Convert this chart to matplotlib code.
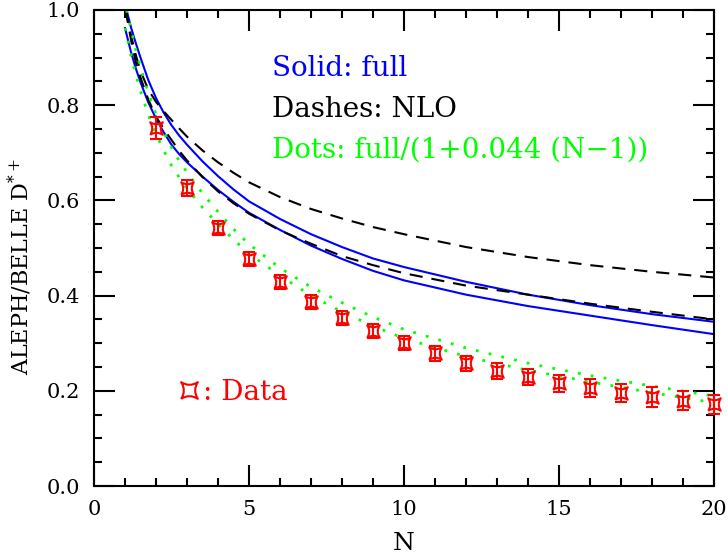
import numpy as np
import matplotlib
matplotlib.use('Agg')
import matplotlib.pyplot as plt
from matplotlib.path import Path
from matplotlib.lines import Line2D
from matplotlib.ticker import MultipleLocator, FormatStrFormatter

plt.rcParams['font.family'] = 'DejaVu Serif'
plt.rcParams['mathtext.fontset'] = 'dejavuserif'

# ---------------------------------------------------------------------------
# curves
N_full_up = [1.05, 1.2, 1.35, 1.5, 1.75, 2, 2.25, 2.5, 2.75, 3, 3.5, 4, 4.5, 5,
             6, 7, 8, 9, 10, 12, 14, 16, 18, 20]
full_up = [1.0, 0.962, 0.930, 0.900, 0.853, 0.815, 0.784, 0.758, 0.736, 0.717,
           0.682, 0.651, 0.623, 0.598, 0.561, 0.529, 0.502, 0.478, 0.460, 0.429,
           0.402, 0.380, 0.361, 0.345]

N_full_lo = [1.0, 1.2, 1.35, 1.5, 1.75, 2, 2.25, 2.5, 2.75, 3, 3.5, 4, 4.5, 5,
             6, 7, 8, 9, 10, 12, 14, 16, 18, 20]
full_lo = [0.962, 0.910, 0.877, 0.848, 0.806, 0.772, 0.743, 0.717, 0.697, 0.680,
           0.650, 0.622, 0.597, 0.574, 0.538, 0.505, 0.477, 0.452, 0.432, 0.402,
           0.378, 0.358, 0.338, 0.319]

N_nlo = [1.02, 1.2, 1.35, 1.5, 1.75, 2, 2.25, 2.5, 2.75, 3, 3.5, 4, 4.5, 5,
         6, 7, 8, 9, 10, 12, 14, 16, 18, 20]
nlo_up = [1.0, 0.945, 0.905, 0.872, 0.833, 0.807, 0.787, 0.769, 0.751, 0.734,
          0.705, 0.680, 0.658, 0.638, 0.607, 0.582, 0.562, 0.544, 0.529, 0.502,
          0.481, 0.464, 0.450, 0.438]
nlo_lo = [1.0, 0.935, 0.890, 0.858, 0.812, 0.776, 0.750, 0.727, 0.704, 0.684,
          0.649, 0.619, 0.594, 0.572, 0.537, 0.509, 0.483, 0.464, 0.447, 0.421,
          0.402, 0.383, 0.366, 0.350]

N_dots_up = [1.05, 1.2, 1.35, 1.5, 1.75, 2, 2.25, 2.5, 2.75, 3, 3.5, 4, 4.5, 5,
             6, 7, 8, 9, 10, 12, 14, 16, 18, 20]
dots_up = [1.0, 0.958, 0.916, 0.880, 0.826, 0.781, 0.743, 0.711, 0.683, 0.659,
           0.615, 0.576, 0.540, 0.508, 0.458, 0.418, 0.385, 0.355, 0.329, 0.290,
           0.258, 0.232, 0.210, 0.189]
N_dots_lo = [1.0, 1.2, 1.35, 1.5, 1.75, 2, 2.25, 2.5, 2.75, 3, 3.5, 4, 4.5, 5,
             6, 7, 8, 9, 10, 12, 14, 16, 18, 20]
dots_lo = [0.962, 0.902, 0.864, 0.830, 0.780, 0.739, 0.705, 0.673, 0.648, 0.625,
           0.585, 0.550, 0.518, 0.488, 0.442, 0.400, 0.366, 0.336, 0.310, 0.272,
           0.243, 0.219, 0.196, 0.175]

# data points
N_data = np.arange(2, 21)
data = [0.752, 0.626, 0.542, 0.477, 0.429, 0.387, 0.353, 0.326, 0.300, 0.279,
        0.258, 0.242, 0.229, 0.216, 0.206, 0.195, 0.187, 0.179, 0.172]
data_err = [0.024, 0.017, 0.015, 0.015, 0.015, 0.015, 0.015, 0.015, 0.015, 0.016,
            0.016, 0.017, 0.017, 0.018, 0.019, 0.019, 0.020, 0.020, 0.020]

# ---------------------------------------------------------------------------
# concave-square symbol used for the data
star = Path([(-1, -1), (0, -0.35), (1, -1), (0.35, 0), (1, 1),
             (0, 0.35), (-1, 1), (-0.35, 0), (-1, -1)],
            [Path.MOVETO, Path.CURVE3, Path.CURVE3, Path.CURVE3, Path.CURVE3,
             Path.CURVE3, Path.CURVE3, Path.CURVE3, Path.CURVE3])

fig = plt.figure(figsize=(7.28, 5.56), dpi=100)
ax = fig.add_axes([94/728, 70/556, 620/728, 476/556])

lw = 1.5
ax.plot(N_full_up, full_up, color='blue', lw=lw)
ax.plot(N_full_lo, full_lo, color='blue', lw=lw)
ax.plot(N_nlo, nlo_up, color='black', lw=lw, dashes=(6.3, 4.3))
ax.plot(N_nlo, nlo_lo, color='black', lw=lw, dashes=(6.3, 4.3))
ax.plot(N_dots_up, dots_up, color='lime', lw=2, dashes=(1, 3.7))
ax.plot(N_dots_lo, dots_lo, color='lime', lw=2, dashes=(1, 3.7))

ax.errorbar(N_data, data, yerr=data_err, fmt='none', ecolor='red',
            elinewidth=1.5, capsize=4, capthick=1.5, clip_on=False, zorder=4)
ax.plot(N_data, data, ls='none', marker=star, ms=9, mfc='none', mec='red',
        mew=1.5, clip_on=False, zorder=5)

fs = 20
ax.text(0.287, 0.878, 'Solid: full', color='blue', fontsize=fs,
        transform=ax.transAxes, va='center')
ax.text(0.287, 0.790, 'Dashes: NLO', color='black', fontsize=fs,
        transform=ax.transAxes, va='center')
ax.text(0.287, 0.706, 'Dots: full/(1+0.044 (N\u22121))', color='lime', fontsize=fs,
        transform=ax.transAxes, va='center')

h = Line2D([], [], ls='none', marker=star, ms=12, mfc='none', mec='red', mew=1.5)
leg = ax.legend([h], [': Data'], loc='center left', bbox_to_anchor=(0.131, 0.197),
                frameon=False, fontsize=fs, handlelength=1.0, handletextpad=0.0,
                borderpad=0, borderaxespad=0, labelcolor='red')

ax.set_xlim(0, 20)
ax.set_ylim(0, 1)
ax.xaxis.set_major_locator(MultipleLocator(5))
ax.xaxis.set_minor_locator(MultipleLocator(1))
ax.yaxis.set_major_locator(MultipleLocator(0.2))
ax.yaxis.set_minor_locator(MultipleLocator(0.05))
ax.yaxis.set_major_formatter(FormatStrFormatter('%.1f'))
ax.tick_params(which='both', direction='in', top=True, right=True, width=1.5,
               labelsize=15)
ax.tick_params(which='major', length=15, pad=10)
ax.tick_params(which='minor', length=5.5)
for s in ax.spines.values():
    s.set_linewidth(1.5)

ax.set_xlabel('N', fontsize=18)
ax.xaxis.set_label_coords(0.5, -0.12)
ax.xaxis.label.set_va('center')
ax.text(-0.12, 0.46, 'ALEPH/BELLE D$^{*+}$', fontsize=16, rotation=90,
        transform=ax.transAxes, va='center', ha='center')

fig.savefig('out.png', dpi=100)
